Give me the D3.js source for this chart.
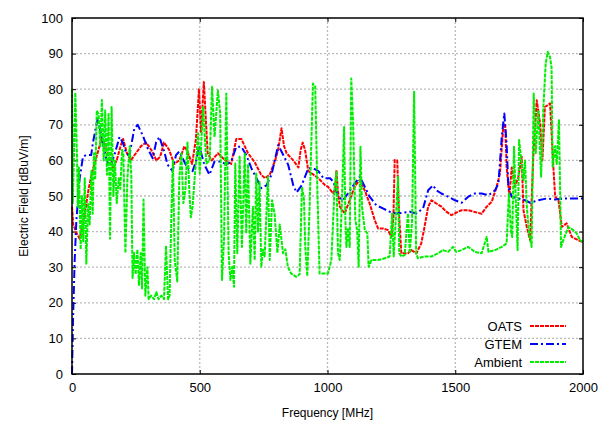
<!DOCTYPE html>
<html>
<head>
<meta charset="utf-8">
<title>Electric Field vs Frequency</title>
<style>
  body { margin: 0; background: #fff; }
  text { font-family: "Liberation Sans", Arial, sans-serif; fill: #000; }
</style>
</head>
<body>
<div id="chart"></div>
<script src="https://d3js.org/d3.v7.min.js"></script>
<script>
// ---- data, [MHz, dBuV/m] ----
const seriesNames = ["OATS", "GTEM", "Ambient"];
const xTicks = [0, 500, 1000, 1500, 2000];
const yTicks = [0, 10, 20, 30, 40, 50, 60, 70, 80, 90, 100];

const oats = [
  [0,47],[5,42],[15,40],[30,38],[50,45],[65,52],[80,57],[100,62],[115,66],[130,64],[145,61],[160,58],
  [175,60],[190,64],[200,66],[215,62],[230,60],[250,62],[270,64],[290,65],[310,63],[330,60],[345,61],
  [360,65],[380,63],[400,59],[420,60],[440,64],[455,62],[470,59],[485,66],[497,80],[505,68],[516,82],
  [531,62],[547,60],[571,62],[600,60],[623,59],[643,66],[663,66],[689,62],[715,59.5],[740,56],[755,55],
  [774,56],[795,60],[807,63],[820,69],[830,64],[840,62],[866,60],[886,58],[895,63],[903,65],[912,63],
  [925,57],[945,56],[964,55],[991,53],[1002,52.6],[1022,50.7],[1030,52],[1035,57.3],[1040,52],[1048,47],
  [1067,45.1],[1087,48.8],[1106,52.6],[1126,54.5],[1146,51.5],[1165,47.9],[1185,43.2],[1198,40.9],
  [1217,40.9],[1237,40.4],[1250,38.5],[1258,44],[1263,60.1],[1273,60],[1280,45],[1289,33.9],[1315,33.9],
  [1328,34.8],[1348,33.9],[1367,36.7],[1380,41.4],[1394,47],[1407,48.8],[1426,47.9],[1446,47],[1465,45.6],
  [1485,44.6],[1511,45.6],[1525,46],[1551,46],[1577,45.5],[1603,45],[1623,47],[1643,48.4],[1662,52.6],
  [1675,56.3],[1688,69.4],[1695,70.4],[1701,58.2],[1712,49.8],[1721,58],[1734,52.6],[1747,55.4],[1760,61],
  [1767,46],[1780,41.3],[1793,37.6],[1806,62],[1819,76.9],[1832,70.4],[1841,60],[1851,75],[1871,76],
  [1884,58.2],[1891,49.8],[1904,48.8],[1917,41.3],[1936,42.3],[1956,38.5],[1982,37.6],[2000,37]
];

const gtem = [
  [0,0],[4,15],[10,31],[17,43],[30,55],[43,61],[56,61.5],[75,61.5],[82,65],[101,72],[114,67],[134,60.6],
  [147,57.8],[166,61.5],[186,66.6],[199,65],[212,62],[225,61.5],[244,69],[257,70],[277,67],[296,63.4],
  [316,60.6],[329,65],[342,66.6],[361,62.5],[374,58.8],[394,57],[407,61.5],[420,62.5],[433,60.6],[452,57.8],
  [472,57],[485,59.7],[498,64],[518,58.8],[538,56],[558,59.7],[584,59.7],[604,58.8],[623,59.7],[643,63.8],
  [663,63.8],[682,61.5],[702,57.8],[722,55],[741,52.2],[761,53],[781,56],[807,64.3],[827,61.5],[846,58.8],
  [866,53],[879,51],[899,53],[925,57.8],[944,57.8],[964,57],[984,55],[1010,55],[1023,54],[1041,49.8],
  [1061,48.8],[1080,50.7],[1106,53.5],[1126,55.4],[1146,52.6],[1165,49.8],[1191,47.4],[1217,46.5],
  [1243,45.6],[1270,45.1],[1296,45.3],[1322,45.6],[1348,45.1],[1374,46.5],[1394,51.6],[1413,53],[1426,51.6],
  [1446,50.7],[1472,49.8],[1499,48.8],[1525,48.1],[1551,49.8],[1577,50.7],[1603,50.7],[1630,50.2],
  [1656,51.6],[1669,53.5],[1682,66.6],[1692,73.2],[1701,64.8],[1708,52.6],[1721,49.8],[1747,49.3],
  [1773,48.8],[1793,48.1],[1825,48.8],[1858,49.3],[1891,49],[1930,49.3],[1969,49.3],[2000,49.3]
];

const ambient = [
  [0,80],[3,48],[8,62],[13,79],[20,60],[23,47],[27,58],[34,35],[39,50],[44,37],[50,55],[56,31],[63,48],
  [69,42],[76,57],[81,45],[86,62],[91,55],[97,74],[104,73],[111,64],[117,77],[124,60],[130,74],[137,56],
  [143,73],[149,38],[155,75],[162,50],[168,60],[175,48],[183,55],[189,52],[196,63],[201,62],[209,34],
  [217,55],[226,64],[232,56],[237,27],[243,34],[249,28],[256,35],[262,25],[269,34],[274,24],[280,49],
  [287,22],[295,30],[300,21],[310,22],[321,21],[330,23],[339,21],[350,22],[360,21],[368,36],[376,21],
  [382,22],[389,45],[395,60],[402,32],[412,26],[420,55],[428,62],[436,48],[444,52],[452,65],[459,52],
  [465,44],[472,47],[480,55],[488,62],[493,67.6],[500,56.3],[513,75],[526,59.1],[539,60],[548,80.7],
  [558,66.6],[571,79.7],[580,73.2],[587,26.4],[595,37.6],[604,78.8],[613,33.9],[620,26.4],[627,30.1],
  [634,24.5],[639,59.1],[647,33.9],[656,61],[665,35.7],[676,61.9],[682,39.5],[689,59],[698,31],[708,47],
  [715,32],[721,56.3],[728,40],[734,54],[741,30.1],[747,35],[754,33],[767,55.4],[774,32],[783,48.8],
  [793,45],[804,34],[813,42],[826,33.9],[835,35],[845,30],[858,28.2],[878,27.3],[891,28],[900,52.6],
  [908,49],[913,35.7],[921,27.5],[930,47],[943,81.6],[952,80.7],[960,52.6],[969,28.2],[989,28.2],
  [1002,28.2],[1015,32],[1028,52.6],[1035,56.8],[1041,33.9],[1048,32],[1057,49.8],[1065,69.4],[1070,43],
  [1074,35.7],[1080,41],[1087,35.7],[1093,83],[1100,71],[1109,43.2],[1116,40.5],[1122,30.1],[1129,63.8],
  [1135,47],[1146,40.4],[1156,39.5],[1161,30.1],[1172,32],[1198,32],[1224,32.5],[1243,33],[1253,45.1],
  [1259,33],[1267,43],[1276,55.4],[1281,33.9],[1289,33],[1302,33.4],[1315,45.1],[1322,33.9],[1331,43],
  [1339,79.3],[1347,33.9],[1354,32.5],[1380,33],[1407,33],[1433,33.9],[1452,34.8],[1472,34.3],[1491,35.7],
  [1504,34.3],[1525,34.8],[1551,35.7],[1577,34.3],[1603,33.9],[1623,38.5],[1630,34.3],[1656,34.8],
  [1682,35.7],[1701,36.7],[1710,50.7],[1718,40],[1723,38.5],[1730,63.8],[1737,48.8],[1744,34.8],
  [1750,65.7],[1760,59],[1767,54.5],[1773,60],[1780,47],[1789,39.5],[1799,35.7],[1807,78.8],[1815,62],
  [1825,74.1],[1836,55.4],[1845,75],[1854,87.2],[1862,90.5],[1871,89],[1877,86],[1881,58.2],[1891,64],
  [1897,59],[1906,71.3],[1914,35.7],[1923,37.6],[1943,41.3],[1962,40.4],[1975,39.5],[1988,37.6],[2000,37.1]
];

// ---- layout ----
const W = 609, H = 425;
const margin = { top: 18, right: 26, bottom: 51, left: 72 };
const width = W - margin.left - margin.right,
  height = H - margin.top - margin.bottom;

const svg = d3.select("#chart").append("svg")
  .attr("width", W)
  .attr("height", H);

const g = svg.append("g")
  .attr("transform", `translate(${margin.left},${margin.top})`);

const x = d3.scaleLinear().domain([0, 2000]).range([0, width]);
const y = d3.scaleLinear().domain([0, 100]).range([height, 0]);

// grid
g.append("g").selectAll("line")
  .data(yTicks.slice(1, -1))
  .join("line")
  .attr("x1", 0).attr("x2", width)
  .attr("y1", d => y(d)).attr("y2", d => y(d))
  .attr("stroke", "#bbb").attr("stroke-width", 1.3)
  .attr("stroke-dasharray", "2,2");
g.append("g").selectAll("line")
  .data(xTicks.slice(1, -1))
  .join("line")
  .attr("x1", d => x(d)).attr("x2", d => x(d))
  .attr("y1", 0).attr("y2", height)
  .attr("stroke", "#bbb").attr("stroke-width", 1.3)
  .attr("stroke-dasharray", "2,2");

// axes (ticks inward, mirrored on top/right)
const tickLen = 4;
const fmt = d3.format("d");
g.append("g")
  .attr("transform", `translate(0,${height})`)
  .call(d3.axisBottom(x).tickValues(xTicks).tickFormat(fmt).tickSizeInner(-tickLen).tickSizeOuter(0).tickPadding(9));
g.append("g")
  .call(d3.axisLeft(y).tickValues(yTicks).tickFormat(fmt).tickSizeInner(-tickLen).tickSizeOuter(0).tickPadding(9));
g.append("g")
  .call(d3.axisTop(x).tickValues(xTicks).tickSizeInner(-tickLen).tickSizeOuter(0).tickFormat(""));
g.append("g")
  .attr("transform", `translate(${width},0)`)
  .call(d3.axisRight(y).tickValues(yTicks).tickSizeInner(-tickLen).tickSizeOuter(0).tickFormat(""));

g.selectAll(".domain").remove();
g.selectAll(".tick line").attr("stroke", "#000");
g.selectAll(".tick text")
  .style("font-size", "13px")
  .style("font-family", "'Liberation Sans', Arial, sans-serif");

// data lines
const line = d3.line()
  .x(d => x(d[0]))
  .y(d => y(d[1]));

const styles = [
  { data: oats, color: "#ff0000", dash: "4,1" },
  { data: gtem, color: "#0000ff", dash: "8,3,2,3" },
  { data: ambient, color: "#00ee00", dash: "4,1" }
];

const plot = g.append("g");
styles.forEach(function(s) {
  plot.append("path")
    .attr("d", line(s.data))
    .attr("fill", "none")
    .attr("stroke", s.color)
    .attr("stroke-width", 2)
    .attr("stroke-linejoin", "round")
    .attr("stroke-dasharray", s.dash);
});

// border
g.append("rect")
  .attr("width", width).attr("height", height)
  .attr("fill", "none")
  .attr("stroke", "#000")
  .attr("stroke-width", 1.5);

// legend
const legend = g.append("g")
  .attr("transform", `translate(${width - 53},${height - 48})`);
seriesNames.forEach(function(name, i) {
  const row = legend.append("g").attr("transform", `translate(0,${i * 18})`);
  row.append("text")
    .attr("x", -8).attr("y", 5)
    .attr("text-anchor", "end")
    .style("font-size", "13px")
    .text(name);
  row.append("line")
    .attr("x1", 0).attr("x2", 36)
    .attr("stroke", styles[i].color)
    .attr("stroke-width", 2)
    .attr("stroke-dasharray", styles[i].dash);
});

// axis titles
svg.append("text")
  .attr("x", margin.left + width / 2)
  .attr("y", H - 8)
  .attr("text-anchor", "middle")
  .style("font-size", "12px")
  .text("Frequency [MHz]");
svg.append("text")
  .attr("transform", `translate(28,${margin.top + height / 2}) rotate(-90)`)
  .attr("text-anchor", "middle")
  .style("font-size", "12px")
  .text("Electric Field [dBuV/m]");
</script>
</body>
</html>
